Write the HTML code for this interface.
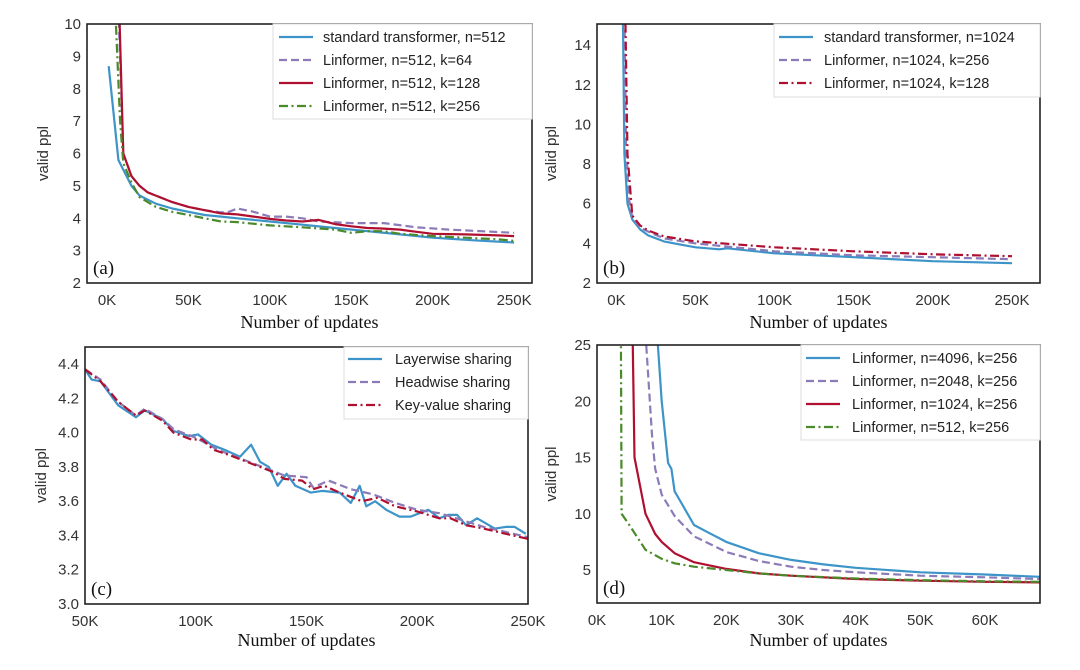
<!DOCTYPE html>
<html><head><meta charset="utf-8"><style>
html,body{margin:0;padding:0;background:#fff;}
svg{display:block;}
.tick{font-family:"Liberation Sans",sans-serif;font-size:15px;fill:#333;}
.leg{font-family:"Liberation Sans",sans-serif;font-size:14.5px;fill:#222;}
.xt{font-family:"Liberation Serif",serif;font-size:18px;fill:#111;}
.pl{font-family:"Liberation Serif",serif;font-size:19px;fill:#111;}
</style></head><body>
<svg id="fig" width="1080" height="670" viewBox="0 0 1080 670"></svg>
<script>
// ---- Panel (a) data (x in K updates) ----
const aStdX=[1,7,10,15,20,30,40,50,60,70,80,90,100,120,140,160,180,200,225,250];
const aStdY=[8.7,5.8,5.5,5.0,4.7,4.45,4.3,4.2,4.1,4.05,4.0,3.95,3.9,3.8,3.7,3.6,3.5,3.4,3.32,3.25];
const aK64X=[7,10,15,20,25,30,40,50,60,70,75,80,90,100,110,120,130,150,170,190,210,230,250];
const aK64Y=[10.5,6.0,5.3,5.0,4.8,4.7,4.5,4.35,4.25,4.18,4.2,4.3,4.2,4.05,4.05,4.0,3.9,3.85,3.85,3.72,3.65,3.6,3.55];
const aK128X=[7.5,10,15,20,25,30,40,50,60,70,80,90,100,110,120,130,140,150,160,170,180,190,200,220,240,250];
const aK128Y=[10.5,6.0,5.3,5.0,4.8,4.7,4.5,4.35,4.25,4.15,4.12,4.05,3.98,3.93,3.9,3.95,3.82,3.75,3.7,3.68,3.65,3.58,3.52,3.5,3.47,3.45];
const aK256X=[5,8,10,15,20,30,40,50,60,70,80,100,120,140,150,160,170,180,200,220,240,250];
const aK256Y=[10.5,7.0,5.7,5.1,4.65,4.35,4.2,4.1,4.0,3.9,3.88,3.78,3.72,3.65,3.55,3.6,3.6,3.52,3.45,3.4,3.35,3.3];
// ---- Panel (b) ----
const bStdX=[4,5,7,10,15,20,30,40,50,65,70,100,150,200,250];
const bStdY=[16,8.5,6.0,5.2,4.7,4.4,4.1,3.95,3.8,3.7,3.75,3.5,3.3,3.1,3.0];
const bK256X=[5,6,8,10,15,20,30,50,100,150,200,250];
const bK256Y=[16,9,6.2,5.3,4.8,4.6,4.25,4.0,3.6,3.4,3.3,3.2];
const bK128X=[5.5,7,10,15,20,30,50,100,150,200,250];
const bK128Y=[16,8.5,5.4,4.9,4.65,4.35,4.1,3.8,3.6,3.45,3.35];
// ---- Panel (c) ----
const cLayX=[50,53,57,65,73,77,85,90,97,101,107,113,120,125,129,133,137,141,145,152,157,165,170,174,177,181,186,192,197,205,210,214,218,222,227,235,240,244,249];
const cLayY=[4.37,4.31,4.3,4.16,4.09,4.13,4.08,4.01,3.98,3.99,3.93,3.9,3.86,3.93,3.83,3.8,3.69,3.76,3.69,3.65,3.66,3.65,3.59,3.69,3.57,3.6,3.55,3.51,3.51,3.55,3.5,3.52,3.52,3.46,3.5,3.44,3.45,3.45,3.41];
const cHeadX=[50,57,65,73,77,85,90,100,110,120,130,140,150,153,160,170,180,190,200,210,220,230,240,250];
const cHeadY=[4.37,4.31,4.18,4.1,4.14,4.08,4.02,3.97,3.9,3.85,3.8,3.75,3.74,3.68,3.72,3.67,3.64,3.59,3.55,3.53,3.49,3.45,3.42,3.39];
const cKvX=[50,57,65,73,77,85,90,98,103,108,115,125,135,140,148,153,158,165,175,182,190,200,210,215,222,230,240,250];
const cKvY=[4.37,4.3,4.18,4.1,4.13,4.07,4.0,3.96,3.96,3.9,3.87,3.82,3.77,3.73,3.72,3.67,3.69,3.65,3.6,3.62,3.57,3.54,3.5,3.5,3.46,3.44,3.41,3.38];
// ---- Panel (d) ----
const d4096X=[9.3,10,11,11.5,12,13,15,17,20,25,30,35,40,50,60,68.5];
const d4096Y=[26,20,14.5,14,12,11,9.0,8.4,7.5,6.5,5.9,5.5,5.2,4.8,4.6,4.4];
const d2048X=[7.5,8.5,9,10,12,15,20,25,30,35,40,50,60,68.5];
const d2048Y=[26,17,14,11.7,9.8,8.0,6.6,5.8,5.3,5.0,4.8,4.5,4.35,4.2];
const d1024X=[5.5,5.8,7.5,9,10,12,15,20,25,30,40,50,60,68.5];
const d1024Y=[26,15,10,8.2,7.5,6.5,5.7,5.1,4.7,4.5,4.2,4.05,3.95,3.9];
const d512X=[3.7,3.8,5,7.5,10,12,15,20,25,30,40,50,60,68.5];
const d512Y=[26,10,9.0,6.8,6.0,5.6,5.3,5.0,4.7,4.5,4.25,4.1,4.0,3.95];
// ---- ticks ----
const aXT=[0,50,100,150,200,250], aYT=[2,3,4,5,6,7,8,9,10];
const bXT=[0,50,100,150,200,250], bYT=[2,4,6,8,10,12,14];
const cXT=[50,100,150,200,250], cYT=[3.0,3.2,3.4,3.6,3.8,4.0,4.2,4.4];
const dXT=[0,10,20,30,40,50,60], dYT=[5,10,15,20,25];

const NS="http://www.w3.org/2000/svg";
const svg=document.getElementById('fig');
const BLUE="#3d94c8",PURP="#8c7bb8",RED="#b01030",GREEN="#4a8a2a";
const DASH="8,4",DDOT="9,3.5,2,3.5";
function mk(t,a,p){const e=document.createElementNS(NS,t);for(const k in a)e.setAttribute(k,a[k]);(p||svg).appendChild(e);return e;}

function panel(o){
  const g=mk('g',{});
  
  
  const sx=v=>o.x0+(v-o.xmin)/(o.xmax-o.xmin)*(o.x1-o.x0);
  const sy=v=>o.y1-(v-o.ymin)/(o.ymax-o.ymin)*(o.y1-o.y0);
  const cp=mk('clipPath',{id:'clip'+o.id},g);
  mk('rect',{x:o.x0,y:o.y0,width:o.x1-o.x0,height:o.y1-o.y0},cp);
  o.series.forEach(s=>{
    let d='';s.xs.forEach((x,i)=>{d+=(i?'L':'M')+sx(x).toFixed(1)+' '+sy(s.ys[i]).toFixed(1);});
    const p=mk('path',{d:d,fill:'none',stroke:s.c,'stroke-width':2.2,'clip-path':'url(#clip'+o.id+')','stroke-dasharray':s.dash||'none','stroke-linejoin':'round'},g);
    
    
  });
  const fr=mk('rect',{x:o.x0,y:o.y0,width:o.x1-o.x0,height:o.y1-o.y0,fill:'none',stroke:'#222','stroke-width':1.6},g);
  
  
  o.xt.forEach(v=>{const t=mk('text',{x:sx(v),y:o.y1+22,'text-anchor':'middle',class:'tick'},g);t.textContent=v+'K';
    
    });
  o.yt.forEach(v=>{const t=mk('text',{x:o.x0-6,y:sy(v)+5,'text-anchor':'end',class:'tick'},g);t.textContent=o.yfmt?v.toFixed(1):v;
    
    });
  const xt=mk('text',{x:(o.x0+o.x1)/2,y:o.xtY,'text-anchor':'middle',class:'xt'},g);xt.textContent='Number of updates';
  
  
  const yx=o.ytX,yy=(o.y0+o.y1)/2;
  const yt=mk('text',{x:yx,y:yy,'text-anchor':'middle',class:'tick',transform:'rotate(-90 '+yx+' '+yy+')'},g);yt.textContent='valid ppl';
  
  
  const pl=mk('text',{x:o.x0+6,y:o.y1-9,class:'pl'},g);pl.textContent='('+o.id+')';
  
  
  const L=o.leg;
  const lb=mk('rect',{x:L.x,y:o.y0,width:o.x1-L.x,height:L.h,fill:'#fff',stroke:'#ddd','stroke-width':1},g);
  
  
  o.series.forEach((s,i)=>{const y=L.y+i*L.dy;
    const ln=mk('line',{x1:L.lx,x2:L.lx+34,y1:y,y2:y,stroke:s.c,'stroke-width':2.2,'stroke-dasharray':s.dash||'none'},g);
    
    
    const t=mk('text',{x:L.tx,y:y+5,class:'leg'},g);t.textContent=s.label;
    
    });
}
panel({id:'a',x0:87,x1:532,y0:24,y1:283,xmin:-12.3,xmax:261,ymin:2,ymax:10,xt:aXT,yt:aYT,xtY:328,ytX:48,
  leg:{x:273,h:95,y:37,dy:23,lx:279,tx:323},
  series:[{name:'std-512',xs:aStdX,ys:aStdY,c:BLUE,label:'standard transformer, n=512'},
    {name:'k64',xs:aK64X,ys:aK64Y,c:PURP,dash:DASH,label:'Linformer, n=512, k=64'},
    {name:'k128',xs:aK128X,ys:aK128Y,c:RED,label:'Linformer, n=512, k=128'},
    {name:'k256',xs:aK256X,ys:aK256Y,c:GREEN,dash:DDOT,label:'Linformer, n=512, k=256'}]});
panel({id:'b',x0:597,x1:1040,y0:24,y1:283,xmin:-12.3,xmax:267.7,ymin:2,ymax:15.07,xt:bXT,yt:bYT,xtY:328,ytX:556,
  leg:{x:774,h:73,y:37,dy:23,lx:779,tx:824},
  series:[{name:'std-1024',xs:bStdX,ys:bStdY,c:BLUE,label:'standard transformer, n=1024'},
    {name:'k256',xs:bK256X,ys:bK256Y,c:PURP,dash:DASH,label:'Linformer, n=1024, k=256'},
    {name:'k128',xs:bK128X,ys:bK128Y,c:RED,dash:DDOT,label:'Linformer, n=1024, k=128'}]});
panel({id:'c',x0:85,x1:528,y0:347,y1:604,xmin:50,xmax:250,ymin:3.0,ymax:4.5,yfmt:1,xt:cXT,yt:cYT,xtY:646,ytX:46,
  leg:{x:344,h:72,y:359,dy:23,lx:348,tx:395},
  series:[{name:'layerwise',xs:cLayX,ys:cLayY,c:BLUE,label:'Layerwise sharing'},
    {name:'headwise',xs:cHeadX,ys:cHeadY,c:PURP,dash:DASH,label:'Headwise sharing'},
    {name:'key-value',xs:cKvX,ys:cKvY,c:RED,dash:DDOT,label:'Key-value sharing'}]});
panel({id:'d',x0:597,x1:1040,y0:345,y1:603,xmin:0,xmax:68.5,ymin:2.07,ymax:25,xt:dXT,yt:dYT,xtY:646,ytX:556,
  leg:{x:801,h:95,y:358,dy:23,lx:806,tx:852},
  series:[{name:'n4096',xs:d4096X,ys:d4096Y,c:BLUE,label:'Linformer, n=4096, k=256'},
    {name:'n2048',xs:d2048X,ys:d2048Y,c:PURP,dash:DASH,label:'Linformer, n=2048, k=256'},
    {name:'n1024',xs:d1024X,ys:d1024Y,c:RED,label:'Linformer, n=1024, k=256'},
    {name:'n512',xs:d512X,ys:d512Y,c:GREEN,dash:DDOT,label:'Linformer, n=512, k=256'}]});
</script>
</body></html>
